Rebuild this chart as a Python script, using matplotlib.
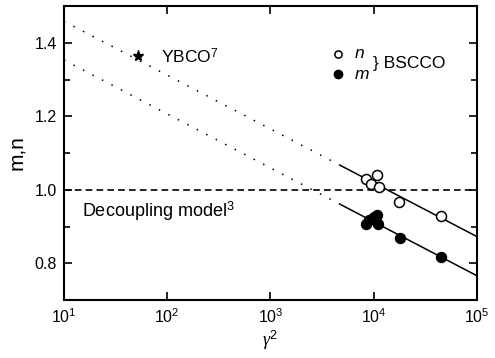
import numpy as np
import matplotlib
matplotlib.use('Agg')
import matplotlib.pyplot as plt
from matplotlib.ticker import MultipleLocator, LogLocator, NullLocator

plt.rcParams['font.family'] = ['Liberation Sans', 'DejaVu Sans']
plt.rcParams['mathtext.fontset'] = 'custom'
plt.rcParams['mathtext.it'] = 'Liberation Serif:italic'
plt.rcParams['mathtext.rm'] = 'Liberation Sans'

# BSCCO exponents vs anisotropy gamma^2
g2_n = [8400, 10700, 9500, 11300, 17600, 44700]
n_val = [1.029, 1.040, 1.017, 1.008, 0.968, 0.928]
g2_m = [8400, 9000, 9950, 10750, 11000, 17900, 44700]
m_val = [0.908, 0.918, 0.925, 0.931, 0.908, 0.869, 0.818]

# YBCO point
g2_ybco = [52]
n_ybco = [1.365]

# linear fits in log10(gamma^2): y = a + b*log10(x)
fit_n = (1.605, -0.1465)
fit_m = (1.500, -0.1468)
solid_from = 4800

fig = plt.figure(figsize=(4.95, 3.58), dpi=100)
ax = fig.add_axes([0.1293, 0.162, 0.8343, 0.821])

for a, b in (fit_n, fit_m):
    xd = np.logspace(1, np.log10(solid_from), 100)
    xs = np.logspace(np.log10(solid_from), 5, 100)
    ax.plot(xd, a + b * np.log10(xd), color='black', lw=1.1, ls=(0, (1, 6)))
    ax.plot(xs, a + b * np.log10(xs), color='black', lw=1.1)

ax.axhline(1.0, color='black', lw=1.2, ls=(0, (4, 2.5)))

ax.plot(g2_n, n_val, 'o', ms=7.2, mfc='white', mec='black', mew=1.1)
ax.plot(g2_m, m_val, 'o', ms=7.2, mfc='black', mec='black')
ax.plot(g2_ybco, n_ybco, '*', ms=8, color='black')

ax.text(87, 1.343, r'YBCO$^{\mathrm{7}}$', fontsize=12.5, va='baseline')
ax.text(15, 0.925, r'Decoupling model$^{\mathrm{3}}$', fontsize=13, va='baseline')

# hand-made legend for n and m
ax.plot([4470], [1.370], 'o', ms=5.2, mfc='white', mec='black', mew=1.1)
ax.plot([4470], [1.316], 'o', ms=6, mfc='black', mec='black')
ax.text(6500, 1.372, 'n', fontsize=12.5, style='italic', va='center')
ax.text(6500, 1.313, 'm', fontsize=12.5, style='italic', va='center')
ax.text(9800, 1.344, '} BSCCO', fontsize=12.5, va='center')

ax.set_xscale('log')
ax.set_xlim(10, 1e5)
ax.set_ylim(0.7, 1.5)
ax.xaxis.set_major_locator(LogLocator(base=10, numticks=10))
ax.xaxis.set_minor_locator(NullLocator())
ax.yaxis.set_major_locator(MultipleLocator(0.2))
ax.yaxis.set_minor_locator(MultipleLocator(0.1))
ax.yaxis.set_major_formatter(plt.FuncFormatter(lambda v, p: f'{v:.1f}'))

ax.tick_params(which='both', direction='in', top=True, right=True, width=1.2)
ax.tick_params(which='major', length=6, labelsize=11.5, pad=5)
ax.tick_params(which='minor', length=4)
for s in ax.spines.values():
    s.set_linewidth(1.5)

ax.set_xlabel(r'$\gamma^{2}$', fontsize=13, labelpad=2)
ax.set_ylabel('m,n', fontsize=15, labelpad=6)

fig.savefig('out.png', dpi=100)
